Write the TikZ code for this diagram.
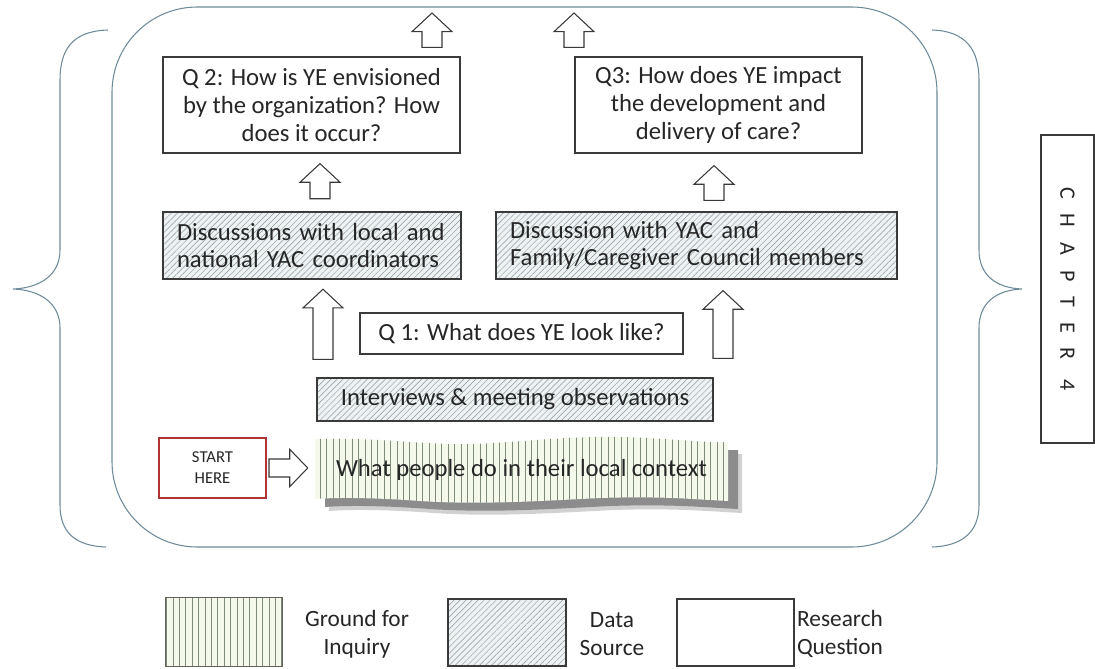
\documentclass[tikz,border=0pt]{standalone}
\usepackage{fontspec}
\setmainfont{Carlito}
\newfontfamily\chapfont[LetterSpace=68]{Carlito}
\usepackage{tikz}
\usetikzlibrary{positioning,calc,patterns.meta}

\definecolor{framecol}{HTML}{6F8A9A}
\definecolor{boxcol}{HTML}{3A3A3A}
\definecolor{startcol}{HTML}{B03434}
\definecolor{hatchbg}{HTML}{EEF2F3}
\definecolor{hatchln}{HTML}{8C979C}
\definecolor{groundbg}{HTML}{F4F9EC}
\definecolor{groundln}{HTML}{7E8C78}
\definecolor{txtcol}{HTML}{262626}

\newlength\px
\setlength\px{0.75pt}

% hollow block arrows, tail point -> tip point
\newcommand\hollowup[2]{%
  \draw[blockarrow] let \p1=#1, \p2=#2 in
    (\x1-7.5pt,\y1) -- (\x1-7.5pt,\y2-14pt) -- (\x1-15pt,\y2-14pt) -- (\x1,\y2)
    -- (\x1+15pt,\y2-14pt) -- (\x1+7.5pt,\y2-14pt) -- (\x1+7.5pt,\y1) -- cycle;}
\newcommand\hollowright[2]{%
  \draw[blockarrow] let \p1=#1, \p2=#2 in
    (\x1,\y1+6.75pt) -- (\x2-13.5pt,\y1+6.75pt) -- (\x2-13.5pt,\y1+14pt) -- (\x2,\y1)
    -- (\x2-13.5pt,\y1-14pt) -- (\x2-13.5pt,\y1-6.75pt) -- (\x1,\y1-6.75pt) -- cycle;}

\tikzset{
  mainfont/.style={font=\fontsize{18.5}{20.8}\selectfont, text=txtcol},
  question/.style={rectangle, draw=boxcol, line width=0.9pt, fill=white, align=center, mainfont},
  source/.style={rectangle, draw=boxcol, line width=0.9pt, preaction={fill=hatchbg},
    pattern={Lines[angle=45,distance=3.2pt,line width=0.35pt]}, pattern color=hatchln, mainfont},
  ground/.style={preaction={fill=groundbg},
    pattern={Lines[angle=90,distance=4.8pt,line width=0.45pt]}, pattern color=groundln},
  blockarrow/.style={draw=boxcol, line width=0.8pt, fill=white, line join=miter},
  brace/.style={draw=framecol, line width=0.8pt},
  legendtext/.style={align=center, font=\fontsize{17.5}{21}\selectfont, text=txtcol},
  wavy edge/.style={insert path={(315,439) .. controls (380,437) and (420,445) .. (470,444)
    .. controls (530,442) and (560,436) .. (620,437) .. controls (670,438) and (700,443) .. (728,442)
    -- (728,501) .. controls (690,499) and (660,496) .. (600,498)
    .. controls (540,501) and (480,505) .. (420,501) .. controls (380,498) and (340,497) .. (315,499) -- cycle}}
}

\begin{document}
\begin{tikzpicture}[x=0.75pt, y=-0.75pt]
  \useasboundingbox (0,0) rectangle (1095,668);

  % frame and braces
  \draw[framecol, line width=0.8pt, rounded corners=64pt] (112,7) rectangle (937,547);
  \draw[brace] (108,30) .. controls (72,31) and (60,50) .. (60,80) -- (60,250)
    .. controls (60,275) and (40,288) .. (13,289) .. controls (40,290) and (60,303) .. (60,328)
    -- (60,505) .. controls (60,532) and (75,546) .. (106,547);
  \draw[brace] (932,30) .. controls (966,31) and (979,50) .. (979,80) -- (979,250)
    .. controls (979,275) and (996,288) .. (1022,289) .. controls (996,290) and (979,303) .. (979,328)
    -- (979,505) .. controls (979,532) and (962,546) .. (932,547);

  % questions
  \node[question, minimum width=297\px, minimum height=96\px] (q2) at (311.5,105)
    {Q 2: How is YE envisioned\\by the organization? How\\does it occur?};
  \node[question, minimum width=287\px, minimum height=96\px] (q3) at (718.5,105)
    {Q3: How does YE impact\\the development and\\delivery of care?};

  % data sources
  \node[source, minimum width=298\px, minimum height=67\px, text width=270\px, align=left] (disclocal) at (312,245.5)
    {Discussions with local and\\national YAC coordinators};
  \node[source, minimum width=401\px, minimum height=67\px, text width=373\px, align=left] (discyac) at (696.5,245.5)
    {Discussion with YAC and\\Family/Caregiver Council members};
  \node[question, minimum width=323\px, minimum height=41\px] (q1) at (521.5,333.5) {Q 1: What does YE look like?};
  \node[source, minimum width=396\px, minimum height=43\px] (interviews) at (515,399.5) {Interviews \& meeting observations};

  % ground for inquiry
  \fill[black!18, xshift=14\px, yshift=-12\px, wavy edge];
  \fill[black!45, xshift=10\px, yshift=-8\px, wavy edge];
  \path[ground, wavy edge];
  \node[mainfont, minimum width=413\px, minimum height=60\px] (context) at (521.5,470)
    {What people do in their local context};
  \node[draw=startcol, line width=1.5pt, fill=white, minimum width=107\px, minimum height=60\px,
    align=center, font=\fontsize{12.5}{15.75}\selectfont, text=txtcol] (start) at (212.5,468) {START\\HERE};

  % chapter
  \node[draw=boxcol, line width=0.9pt, rotate=-90, minimum width=308\px, minimum height=53\px,
    font=\chapfont\fontsize{16.5}{20}\selectfont, text=txtcol] (chapter) at (1067.5,289) {CHAPTER 4};

  % arrows
  \coordinate (q2up) at (432,13);
  \coordinate (q3up) at (574,13);
  \hollowup{($(q2.north -| q2up)+(0,-9)$)}{(q2up)}
  \hollowup{($(q3.north -| q3up)+(0,-9)$)}{(q3up)}
  \hollowup{($(disclocal.north)+(8,-13)$)}{($(q2.south)+(8.5,10)$)}
  \hollowup{($(discyac.north)+(17.5,-11)$)}{($(q3.south)+(0,12)$)}
  \hollowup{($(interviews.north -| disclocal.south)+(11,-18)$)}{($(disclocal.south)+(11,10)$)}
  \hollowup{($(interviews.north -| discyac.south)+(26.5,-19)$)}{($(discyac.south)+(26.5,11)$)}
  \hollowright{($(start.east)+(2,0)$)}{($(context.west)+(-7,0)$)}

  % legend
  \node[ground, draw=boxcol!80, line width=0.7pt, minimum width=117\px, minimum height=69\px] (legground) at (223.5,631.5) {};
  \node[legendtext] (lgroundtxt) at (357,634) {Ground for\\Inquiry};
  \node[source, minimum width=118\px, minimum height=67\px] (legsource) at (507,632.5) {};
  \node[legendtext] (lsourcetxt) at (612,634) {Data\\Source};
  \node[question, minimum width=117\px, minimum height=67\px] (legquestion) at (735.5,632.5) {};
  \node[legendtext] (lquestiontxt) at (840,634) {Research\\Question};
\end{tikzpicture}
\end{document}
